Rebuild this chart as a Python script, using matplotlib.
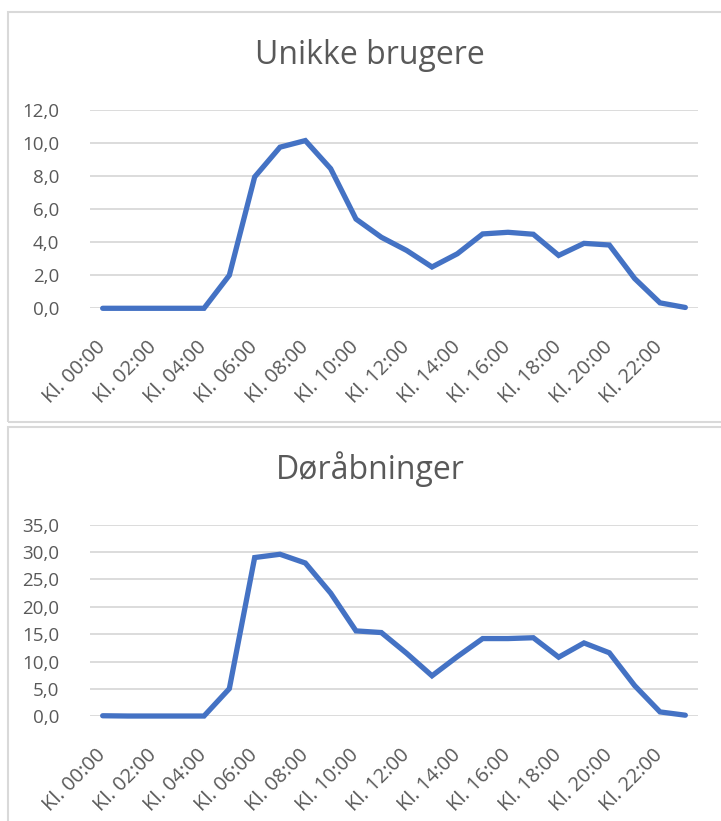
import matplotlib
matplotlib.use("Agg")
import matplotlib.pyplot as plt
from matplotlib.patches import Rectangle

hours = [f"Kl. {h:02d}:00" for h in range(24)]
unikke_brugere = [0.0, 0.0, 0.0, 0.0, 0.0, 2.0, 7.95, 9.75, 10.15, 8.45, 5.4, 4.3,
                  3.5, 2.5, 3.3, 4.5, 4.6, 4.48, 3.2, 3.93, 3.83, 1.8, 0.33, 0.05]
doraabninger = [0.1, 0.05, 0.05, 0.05, 0.05, 5.05, 29.0, 29.6, 28.0, 22.5, 15.6, 15.3,
                11.5, 7.4, 10.9, 14.2, 14.2, 14.35, 10.8, 13.4, 11.6, 5.6, 0.8, 0.2]
titles = ["Unikke brugere", "Døråbninger"]
y_ticks_top = [0, 2, 4, 6, 8, 10, 12]
y_ticks_bottom = [0, 5, 10, 15, 20, 25, 30, 35]

W, H = 721, 821
fig = plt.figure(figsize=(W / 100, H / 100), dpi=100)
plt.rcParams['font.family'] = ['Open Sans', 'DejaVu Sans']

LINE = "#4472C4"
GRID = "#D9D9D9"
TXT = "#595959"

def fx(px):
    return px / W

def fy(py):
    return 1 - py / H

# panel borders
fig.patches.append(Rectangle((fx(8), fy(422)), fx(730) - fx(8), fy(12) - fy(422),
                             transform=fig.transFigure, fill=False, edgecolor="#D9D9D9", lw=1.5))
fig.patches.append(Rectangle((fx(8), fy(840)), fx(730) - fx(8), fy(427) - fy(840),
                             transform=fig.transFigure, fill=False, edgecolor="#D9D9D9", lw=1.5))

def panel(top_px, bottom_px, data, yticks, title, title_y):
    ax = fig.add_axes([fx(90), fy(bottom_px), fx(698) - fx(90), fy(top_px) - fy(bottom_px)])
    x = list(range(len(hours)))
    ax.plot(x, data, color=LINE, lw=3.8, solid_joinstyle="miter", solid_capstyle="round",
            zorder=3, clip_on=False)
    ax.set_xlim(-0.5, 23.5)
    ax.set_ylim(yticks[0], yticks[-1])
    ax.set_yticks(yticks)
    ax.set_yticklabels([f"{v:.1f}".replace(".", ",") for v in yticks])
    ax.set_xticks(x[::2])
    ax.set_xticklabels(hours[::2], rotation=45, ha="right", va="center", rotation_mode="anchor")
    ax.tick_params(axis="both", length=0, colors=TXT)
    ax.tick_params(axis="y", pad=22, labelsize=13.5)
    ax.tick_params(axis="x", pad=26, labelsize=14.5)
    ax.grid(axis="y", color=GRID, lw=1.3, zorder=0)
    for s in ax.spines.values():
        s.set_visible(False)
    fig.text(fx(370), fy(title_y), title, ha="center", va="center", fontsize=23, color=TXT)
    return ax

panel(110, 308.3, unikke_brugere, y_ticks_top, titles[0], 56)
panel(524.7, 716.3, doraabninger, y_ticks_bottom, titles[1], 469)

fig.savefig("out.png", dpi=100, facecolor="white")
